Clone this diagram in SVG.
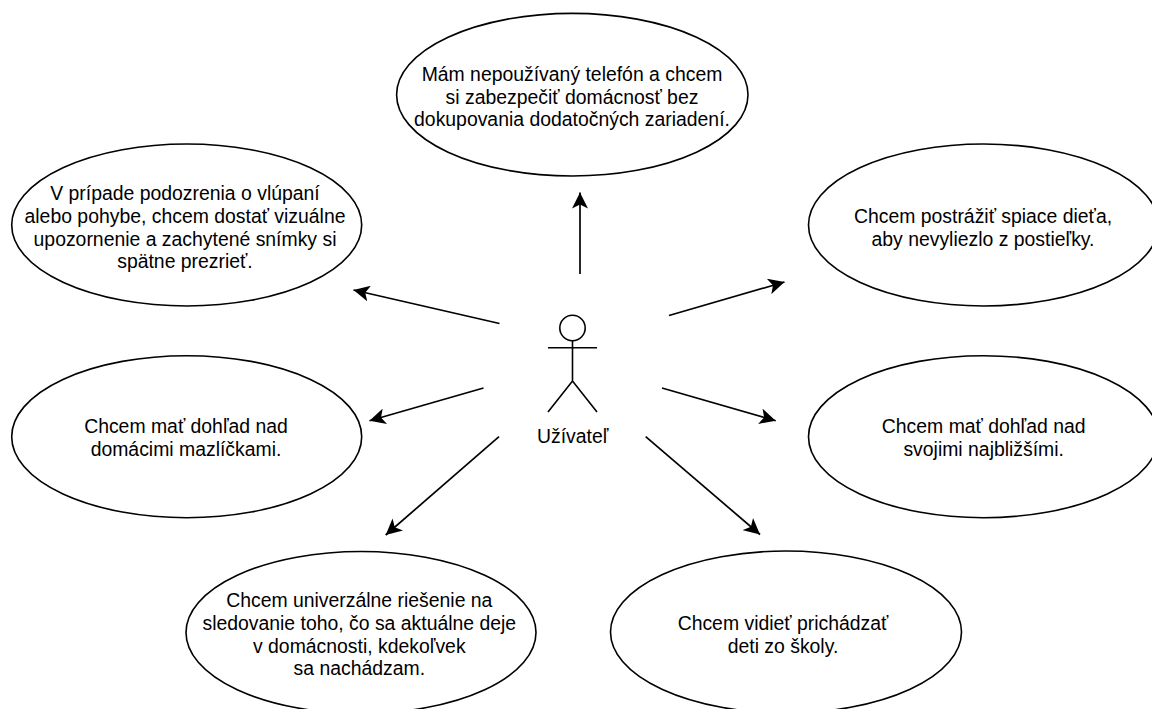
<svg xmlns="http://www.w3.org/2000/svg" width="1152" height="709" viewBox="0 0 1152 709">
<style>
.n{fill:#fff;stroke:#000;stroke-width:1.6}
.l{fill:none;stroke:#000;stroke-width:1.6}
.c{fill:none;stroke:#000;stroke-width:1.7;marker-end:url(#a)}
text{font-family:"Liberation Sans",Arial,sans-serif;font-size:19.4px;text-anchor:middle;fill:#000}
</style>
<defs><marker id="a" markerUnits="userSpaceOnUse" markerWidth="18" markerHeight="16" refX="16" refY="8" orient="auto"><path d="M0 0L16 8L0 16L4 8Z" fill="#000"/></marker></defs>
<rect width="1152" height="709" fill="#fff"/>
<g id="connectors">
<path class="c" d="M580 274V192.500"/>
<path class="c" d="M499.500 323.500L353.500 290"/>
<path class="c" d="M669 315.500L784.500 282"/>
<path class="c" d="M483.500 388L369.500 420.700"/>
<path class="c" d="M662 388L775.700 420.700"/>
<path class="c" d="M499 436.700L385.700 535"/>
<path class="c" d="M645.700 436.700L760 534.500"/>
</g>
<g id="n1"><ellipse class="n" cx="572.300" cy="94.700" rx="175.700" ry="81.300"/><text x="572" y="80.500">Mám nepoužívaný telefón a chcem</text><text x="572" y="103.500">si zabezpečiť domácnosť bez</text><text x="572" y="126">dokupovania dodatočných zariadení.</text></g>
<g id="n2"><ellipse class="n" cx="186.700" cy="225" rx="175" ry="81"/><text x="185" y="199.500">V prípade podozrenia o vlúpaní</text><text x="185" y="222.500">alebo pohybe, chcem dostať vizuálne</text><text x="185" y="245.500">upozornenie a zachytené snímky si</text><text x="185" y="268">spätne prezrieť.</text></g>
<g id="n3"><ellipse class="n" cx="983.500" cy="225" rx="175" ry="81"/><text x="983" y="222.500">Chcem postrážiť spiace dieťa,</text><text x="983" y="245.500">aby nevyliezlo z postieľky.</text></g>
<g id="n4"><ellipse class="n" cx="186.700" cy="436.700" rx="175" ry="81"/><text x="186" y="433">Chcem mať dohľad nad</text><text x="186" y="456">domácimi mazlíčkami.</text></g>
<g id="n5"><ellipse class="n" cx="983.500" cy="436.700" rx="175" ry="81"/><text x="983.700" y="433">Chcem mať dohľad nad</text><text x="983.700" y="456">svojimi najbližšími.</text></g>
<g id="n6"><ellipse class="n" cx="361" cy="632.500" rx="175" ry="81"/><text x="359.300" y="607">Chcem univerzálne riešenie na</text><text x="359.300" y="630">sledovanie toho, čo sa aktuálne deje</text><text x="359.300" y="652.500">v domácnosti, kdekoľvek</text><text x="359.300" y="675">sa nachádzam.</text></g>
<g id="n7"><ellipse class="n" cx="786" cy="632" rx="175.500" ry="81"/><text x="783" y="629.500">Chcem vidieť prichádzať</text><text x="783" y="652.500">deti zo školy.</text></g>
<g id="actor"><circle class="l" cx="572.500" cy="328" r="12.700"/><path class="l" d="M572.500 341V381M548 347.700H597M548 412L572.500 381L597 412"/><text x="572.700" y="442.500">Užívateľ</text></g>
</svg>
